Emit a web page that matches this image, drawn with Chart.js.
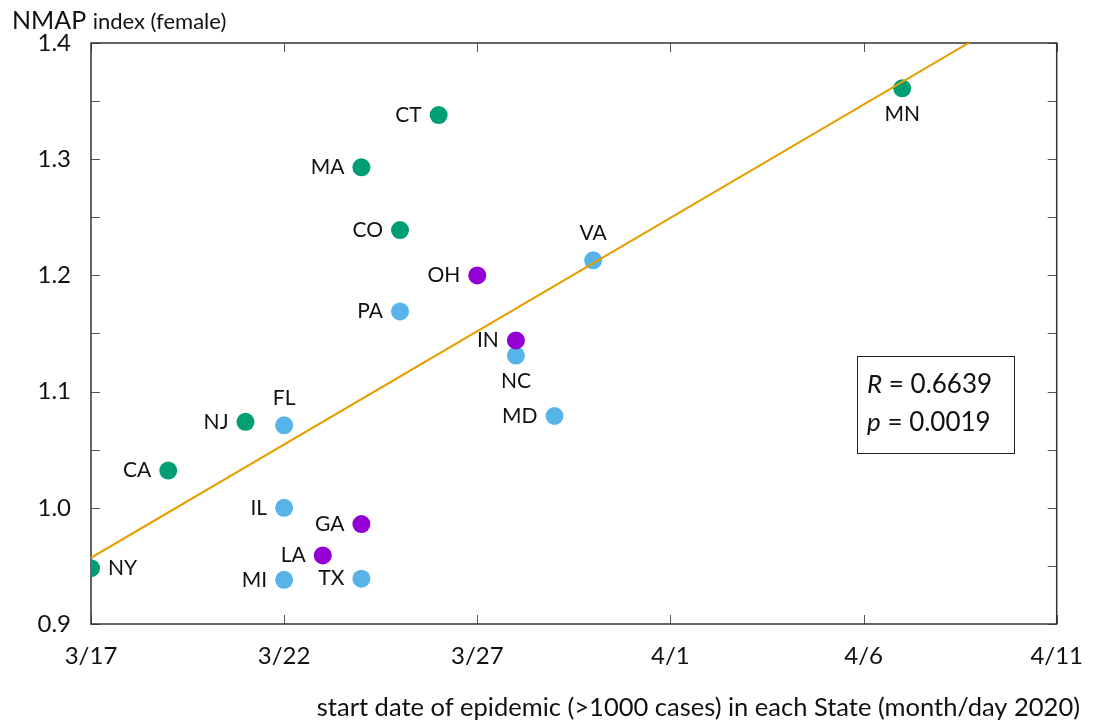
<!DOCTYPE html>
<html>
<head>
<meta charset="utf-8">
<script src="https://cdn.jsdelivr.net/npm/chart.js@4.4.1/dist/chart.umd.min.js"></script>
<style>
  html, body { margin: 0; padding: 0; background: #fff; }
  #wrap { width: 1101px; height: 725px; position: relative; }
</style>
</head>
<body>
<div id="wrap"><canvas id="c" width="1101" height="725"></canvas></div>
<script>
// States, start day (days after 3/17/2020) and NMAP index (female)
const states = ['NY','CA','NJ','FL','IL','MI','LA','GA','TX','MA','CO','PA','CT','OH','IN','NC','MD','VA','MN'];
const startDay = [0, 2, 4, 5, 5, 5, 6, 7, 7, 7, 8, 8, 9, 10, 11, 11, 12, 13, 21];
const nmapIndex = [0.948, 1.032, 1.074, 1.071, 1.000, 0.938, 0.959, 0.986, 0.939, 1.293, 1.239, 1.169, 1.338, 1.200, 1.144, 1.131, 1.079, 1.213, 1.361];
const stateGroup = ['g','g','g','b','b','b','p','p','b','g','g','b','g','p','p','b','b','b','g'];
const labelSide = ['right','left','left','above','left','left','left','left','left','left','left','left','left','left','left','below','left','above','below'];
const xTickLabels = ['3/17', '3/22', '3/27', '4/1', '4/6', '4/11'];
// linear fit: index = fitIntercept + fitSlope * day
const fitIntercept = 0.957;
const fitSlope = 0.0195;
const statR = '0.6639';
const statP = '0.0019';

const groupColors = { p: '#9400d3', g: '#009e73', b: '#56b4e9' };
const FONT = 'Lato, "Open Sans", sans-serif';

const datasets = ['p', 'g', 'b'].map(g => ({
  type: 'scatter',
  data: startDay.map((d, i) => ({ x: d, y: nmapIndex[i], state: states[i], side: labelSide[i] })).filter((_, i) => stateGroup[i] === g),
  backgroundColor: groupColors[g],
  borderWidth: 0,
  pointRadius: 9,
  pointHoverRadius: 9
}));
datasets.unshift({
  type: 'line',
  data: [{ x: 0, y: fitIntercept }, { x: 25, y: fitIntercept + fitSlope * 25 }],
  borderColor: '#e69f00',
  borderWidth: 2,
  pointRadius: 0,
  fill: false
});

const frame = {
  id: 'frame',
  beforeDatasetsDraw(chart) {
    const { ctx, chartArea: a, scales: { x, y } } = chart;
    ctx.save();
    ctx.strokeStyle = '#555';
    ctx.lineWidth = 1;
    // inward ticks on all four sides
    for (let v = 0.9; v <= 1.4001; v += 0.05) {
      const py = Math.round(y.getPixelForValue(v)) + 0.5;
      ctx.beginPath();
      ctx.moveTo(a.left, py); ctx.lineTo(a.left + 9, py);
      ctx.moveTo(a.right, py); ctx.lineTo(a.right - 9, py);
      ctx.stroke();
    }
    for (let d = 0; d <= 25; d += 5) {
      const px = Math.round(x.getPixelForValue(d)) + 0.5;
      ctx.beginPath();
      ctx.moveTo(px, a.bottom); ctx.lineTo(px, a.bottom - 9);
      ctx.moveTo(px, a.top); ctx.lineTo(px, a.top + 9);
      ctx.stroke();
    }
    ctx.strokeStyle = '#333';
    ctx.lineWidth = 1.5;
    ctx.strokeRect(a.left, a.top, a.right - a.left, a.bottom - a.top);
    ctx.restore();
  },
  afterDatasetsDraw(chart) {
    const { ctx } = chart;
    ctx.save();
    ctx.fillStyle = '#111';
    ctx.font = '21px ' + FONT;
    chart.data.datasets.forEach((ds, di) => {
      if (ds.type !== 'scatter') return;
      chart.getDatasetMeta(di).data.forEach((el, i) => {
        const p = ds.data[i];
        let tx = el.x, ty = el.y;
        ctx.textBaseline = 'middle';
        if (p.side === 'left') { ctx.textAlign = 'right'; tx -= 17; }
        else if (p.side === 'right') { ctx.textAlign = 'left'; tx += 17; }
        else if (p.side === 'above') { ctx.textAlign = 'center'; ty -= 27; }
        else { ctx.textAlign = 'center'; ty += 26; }
        ctx.fillText(p.state, tx, ty);
      });
    });

    // statistics box
    ctx.strokeStyle = '#222';
    ctx.lineWidth = 1;
    ctx.strokeRect(857.5, 356.5, 157, 97);
    ctx.textAlign = 'left';
    ctx.textBaseline = 'alphabetic';
    const row = (sym, val, yb) => {
      ctx.font = 'italic 26px ' + FONT;
      ctx.fillText(sym, 867, yb);
      const w = ctx.measureText(sym).width;
      ctx.font = '26px ' + FONT;
      ctx.fillText(' = ' + val, 867 + w, yb);
    };
    row('R', statR, 393);
    row('p', statP, 431);

    // axis titles
    ctx.font = '25px ' + FONT;
    ctx.fillText('NMAP', 12, 29);
    const w1 = ctx.measureText('NMAP ').width;
    ctx.font = '22px ' + FONT;
    ctx.fillText('index (female)', 12 + w1, 29);
    ctx.textAlign = 'right';
    ctx.font = '25.5px ' + FONT;
    ctx.fillText('start date of epidemic (>1000 cases) in each State (month/day 2020)', 1080, 716);
    ctx.restore();
  }
};

new Chart(document.getElementById('c'), {
  data: { datasets },
  options: {
    responsive: false,
    animation: false,
    events: [],
    layout: { padding: { left: 0, top: 43, right: 39, bottom: 0 } },
    plugins: { legend: { display: false }, tooltip: { enabled: false } },
    scales: {
      x: {
        type: 'linear', min: 0, max: 25,
        grid: { display: false, drawTicks: false },
        border: { display: false },
        ticks: {
          stepSize: 5, padding: 18, color: '#111',
          font: { family: FONT, size: 24 },
          callback: v => xTickLabels[v / 5] || ''
        },
        afterFit: s => { s.height = 101; }
      },
      y: {
        type: 'linear', min: 0.9, max: 1.4,
        grid: { display: false, drawTicks: false },
        border: { display: false },
        ticks: {
          stepSize: 0.1, padding: 20, color: '#111',
          font: { family: FONT, size: 24 },
          callback: v => v.toFixed(1)
        },
        afterFit: s => { s.width = 91; }
      }
    }
  },
  plugins: [frame]
});
</script>
</body>
</html>
